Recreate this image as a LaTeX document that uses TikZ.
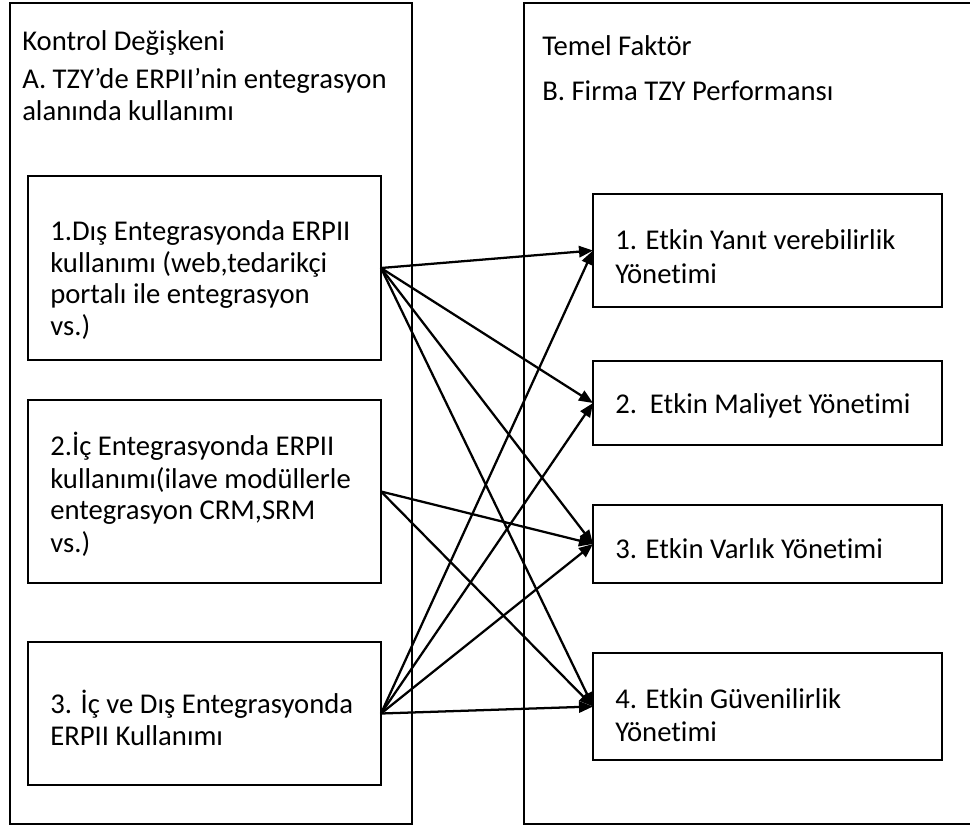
\documentclass[tikz,border=0pt]{standalone}
\usepackage{fontspec}
\setmainfont{Carlito}[Ligatures={NoCommon}]
\usetikzlibrary{arrows.meta}
\begin{document}
\begin{tikzpicture}[x=0.75pt,y=-0.75pt,
  frame/.style={draw=black,line width=1.5pt},
  innerbox/.style={draw=black,line width=1.5pt,inner sep=0pt,outer sep=0pt},
  txt/.style={anchor=base west,inner sep=0pt,font=\fontsize{21.5pt}{26pt}\selectfont},
  link/.style={line width=1.7pt,-{Triangle[length=10.5pt,width=8.5pt]}}]
\useasboundingbox (0,0) rectangle (970,828);
\begin{scope}
\clip (0,0) rectangle (970,828);
% outer frames
\draw[frame] (10,3) rectangle (412,824);
\draw[frame] (524,3) rectangle (990,824);
\end{scope}
% left boxes
\node[innerbox,minimum width=264.75pt,minimum height=138pt] (L1) at (204.5,268) {};
\node[innerbox,minimum width=264.75pt,minimum height=137.25pt] (L2) at (204.5,491.5) {};
\node[innerbox,minimum width=264.75pt,minimum height=107.25pt] (L3) at (204.5,713.5) {};
% right boxes
\node[innerbox,minimum width=261.75pt,minimum height=84.75pt] (R1) at (767.5,250.5) {};
\node[innerbox,minimum width=261.75pt,minimum height=63pt] (R2) at (767.5,403) {};
\node[innerbox,minimum width=261.75pt,minimum height=58.5pt] (R3) at (767.5,544) {};
\node[innerbox,minimum width=261.75pt,minimum height=80.25pt] (R4) at (767.5,706.5) {};
% headings
\node[txt] (h1) at (22,50) {Kontrol Değişkeni};
\node[txt] (h2) at (22,88) {A. TZY’de ERPII’nin entegrasyon};
\node[txt] (h3) at (22,120) {alanında kullanımı};
\node[txt] (h4) at (542,55) {Temel Faktör};
\node[txt] (h5) at (542,100) {B. Firma TZY Performansı};
% left box texts
\node[txt] (a1) at (50,240) {1.Dış Entegrasyonda ERPII};
\node[txt] (a2) at (50,272) {kullanımı (web,tedarikçi};
\node[txt] (a3) at (50,303) {portalı ile entegrasyon};
\node[txt] (a4) at (50,335) {vs.)};
\node[txt] (b1) at (50,455) {2.İç Entegrasyonda ERPII};
\node[txt] (b2) at (50,488) {kullanımı(ilave modüllerle};
\node[txt] (b3) at (50,519) {entegrasyon CRM,SRM};
\node[txt] (b4) at (50,552) {vs.)};
\node[txt] (c1) at (50,713) {3. İç ve Dış Entegrasyonda};
\node[txt] (c2) at (50,745) {ERPII Kullanımı};
% right box texts
\node[txt] (d1) at (615,249) {1. Etkin Yanıt verebilirlik};
\node[txt] (d2) at (615,283) {Yönetimi};
\node[txt] (e1) at (615,413) {2.\ \ Etkin Maliyet Yönetimi};
\node[txt] (f1) at (615,558) {3. Etkin Varlık Yönetimi};
\node[txt] (g1) at (615,708) {4. Etkin Güvenilirlik};
\node[txt] (g2) at (615,741) {Yönetimi};
% connectors
\draw[link] (L1.east) -- (R1.west);
\draw[link] (L1.east) -- (R2.west);
\draw[link] (L1.east) -- (R3.west);
\draw[link] (L1.east) -- (R4.west);
\draw[link] (L2.east) -- (R3.west);
\draw[link] (L2.east) -- (R4.west);
\draw[link] (L3.east) -- (R1.west);
\draw[link] (L3.east) -- (R2.west);
\draw[link] (L3.east) -- (R3.west);
\draw[link] (L3.east) -- (R4.west);
\end{tikzpicture}
\end{document}
